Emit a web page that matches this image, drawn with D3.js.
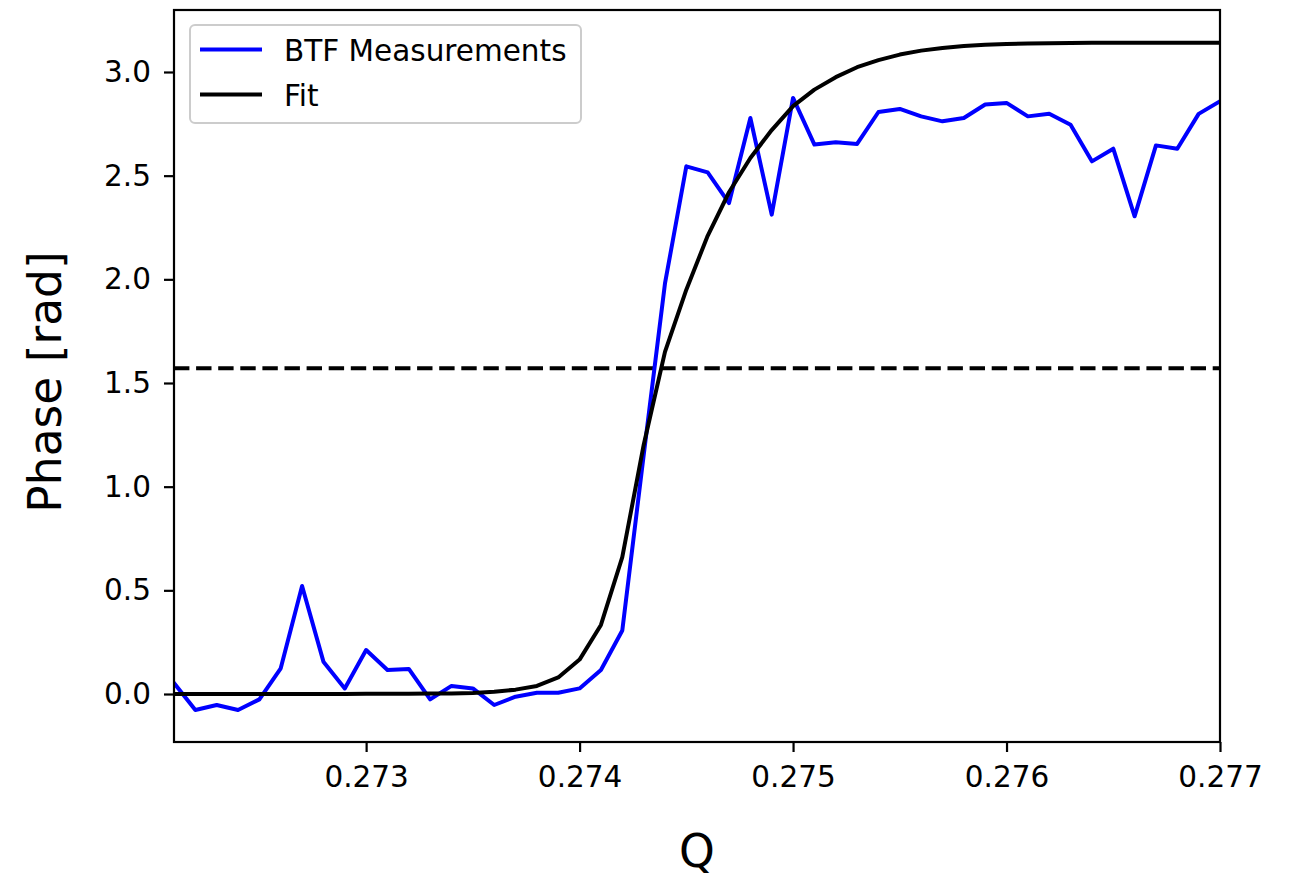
<!DOCTYPE html>
<html>
<head>
<meta charset="utf-8">
<script src="https://cdn.jsdelivr.net/npm/d3@7"></script>
<style>
  html, body { margin: 0; padding: 0; background: #fff; }
  svg { display: block; font-family: "DejaVu Sans", sans-serif; }
</style>
</head>
<body>
<svg id="chart" width="1293" height="880"></svg>
<script>
// Tune parameter Q (sampled every 1e-4)
const qValues = [
  0.2721, 0.2722, 0.2723, 0.2724, 0.2725, 0.2726, 0.2727, 0.2728, 0.2729, 0.2730,
  0.2731, 0.2732, 0.2733, 0.2734, 0.2735, 0.2736, 0.2737, 0.2738, 0.2739, 0.2740,
  0.2741, 0.2742, 0.2743, 0.2744, 0.2745, 0.2746, 0.2747, 0.2748, 0.2749, 0.2750,
  0.2751, 0.2752, 0.2753, 0.2754, 0.2755, 0.2756, 0.2757, 0.2758, 0.2759, 0.2760,
  0.2761, 0.2762, 0.2763, 0.2764, 0.2765, 0.2766, 0.2767, 0.2768, 0.2769, 0.2770
];

// Measured BTF phase [rad]
const btfPhase = [
  0.053, -0.077, -0.053, -0.077, -0.026, 0.124, 0.521, 0.156, 0.027, 0.212,
  0.116, 0.121, -0.026, 0.039, 0.027, -0.053, -0.013, 0.006, 0.006, 0.027,
  0.116, 0.306, 1.150, 1.980, 2.545, 2.516, 2.368, 2.778, 2.312, 2.875,
  2.650, 2.661, 2.653, 2.807, 2.822, 2.786, 2.762, 2.778, 2.843, 2.851,
  2.786, 2.799, 2.746, 2.569, 2.630, 2.304, 2.646, 2.630, 2.798, 2.859
];

// Fitted phase [rad]
const fitPhase = [
  0.000, 0.000, 0.000, 0.000, 0.000, 0.000, 0.000, 0.000, 0.000, 0.001,
  0.001, 0.001, 0.002, 0.003, 0.005, 0.011, 0.021, 0.039, 0.080, 0.166,
  0.333, 0.660, 1.200, 1.650, 1.950, 2.210, 2.420, 2.585, 2.720, 2.835,
  2.915, 2.975, 3.023, 3.057, 3.084, 3.103, 3.116, 3.125, 3.131, 3.135,
  3.138, 3.139, 3.140, 3.141, 3.141, 3.141, 3.141, 3.141, 3.141, 3.141
];

const halfPi = 1.5708;

const xTicks = [0.273, 0.274, 0.275, 0.276, 0.277];
const yTicks = [0.0, 0.5, 1.0, 1.5, 2.0, 2.5, 3.0];

const seriesNames = ["BTF Measurements", "Fit"];
const seriesColors = ["#0000ff", "#000000"];

// ---- layout ----
const plot = { left: 174, right: 1220, top: 10, bottom: 742 };
const tickFont = "29.5px";

const x = d3.scaleLinear().domain([0.2721, 0.277]).range([plot.left, plot.right]);
const y = d3.scaleLinear().domain([-0.2315, 3.299]).range([plot.bottom, plot.top]);

const svg = d3.select("#chart");

svg.append("defs").append("clipPath").attr("id", "plot-clip")
  .append("rect")
  .attr("x", plot.left).attr("y", plot.top)
  .attr("width", plot.right - plot.left).attr("height", plot.bottom - plot.top);

const lines = svg.append("g").attr("clip-path", "url(#plot-clip)");

// pi/2 reference
lines.append("line")
  .attr("x1", plot.left).attr("x2", plot.right)
  .attr("y1", y(halfPi)).attr("y2", y(halfPi))
  .attr("stroke", "#000").attr("stroke-width", 4)
  .attr("stroke-dasharray", "15.4,6.7");

const lineGen = values => d3.line()
  .x((d, i) => x(qValues[i]))
  .y(d => y(d))(values);

lines.append("path")
  .attr("d", lineGen(btfPhase))
  .attr("fill", "none").attr("stroke", seriesColors[0])
  .attr("stroke-width", 4).attr("stroke-linejoin", "round").attr("stroke-linecap", "square");

lines.append("path")
  .attr("d", lineGen(fitPhase))
  .attr("fill", "none").attr("stroke", seriesColors[1])
  .attr("stroke-width", 4).attr("stroke-linejoin", "round").attr("stroke-linecap", "square");

// ---- axes ----
const xAxis = d3.axisBottom(x).tickValues(xTicks).tickFormat(d3.format(".3f"))
  .tickSize(10).tickPadding(14);
const yAxis = d3.axisLeft(y).tickValues(yTicks).tickFormat(d3.format(".1f"))
  .tickSize(10).tickPadding(13);

const gx = svg.append("g").attr("transform", `translate(0,${plot.bottom})`).call(xAxis);
const gy = svg.append("g").attr("transform", `translate(${plot.left},0)`).call(yAxis);

[gx, gy].forEach(g => {
  g.select(".domain").remove();
  g.selectAll(".tick line").attr("stroke", "#000").attr("stroke-width", 2.2);
  g.selectAll(".tick text")
    .attr("fill", "#000")
    .style("font-size", tickFont)
    .style("font-family", "'DejaVu Sans', sans-serif");
});

// frame
svg.append("rect")
  .attr("x", plot.left).attr("y", plot.top)
  .attr("width", plot.right - plot.left).attr("height", plot.bottom - plot.top)
  .attr("fill", "none").attr("stroke", "#000").attr("stroke-width", 2.2);

// axis labels
svg.append("text")
  .attr("x", (plot.left + plot.right) / 2).attr("y", 867)
  .attr("text-anchor", "middle")
  .style("font-size", "45.5px")
  .text("Q");

svg.append("text")
  .attr("transform", `translate(61,${(plot.top + plot.bottom) / 2 + 6}) rotate(-90)`)
  .attr("text-anchor", "middle")
  .style("font-size", "45.5px")
  .text("Phase [rad]");

// ---- legend ----
const legend = svg.append("g");
legend.append("rect")
  .attr("x", 190).attr("y", 25).attr("width", 391).attr("height", 98)
  .attr("rx", 5).attr("ry", 5)
  .attr("fill", "#fff").attr("fill-opacity", 0.8)
  .attr("stroke", "#cccccc").attr("stroke-width", 2);

seriesNames.forEach((name, i) => {
  const cy = 49.5 + i * 45;
  legend.append("line")
    .attr("x1", 200).attr("x2", 262).attr("y1", cy).attr("y2", cy)
    .attr("stroke", seriesColors[i]).attr("stroke-width", 4);
  legend.append("text")
    .attr("x", 284).attr("y", cy + 11)
    .style("font-size", tickFont)
    .attr("fill", "#000")
    .text(name);
});
</script>
</body>
</html>
